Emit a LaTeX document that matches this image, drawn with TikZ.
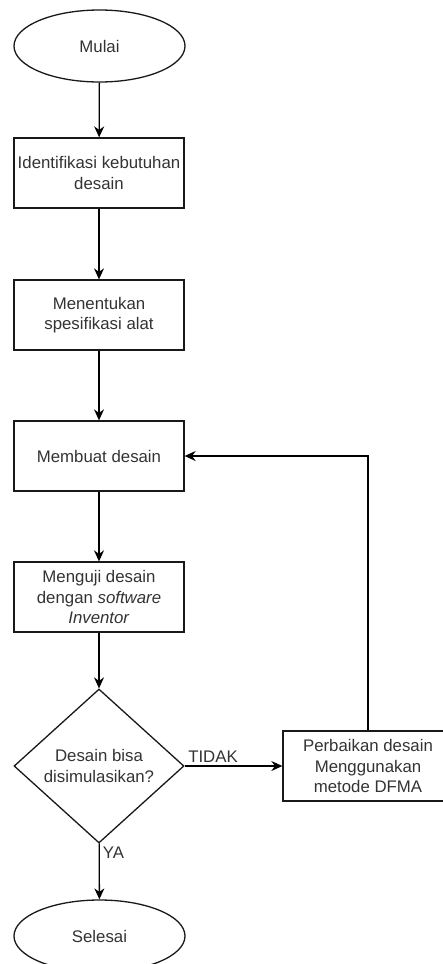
\documentclass[tikz,border=0pt]{standalone}
\usepackage{fontspec}
\setmainfont{Liberation Sans}
\usetikzlibrary{shapes.geometric,arrows.meta}
\tikzset{
        every node/.style={font=\fontsize{8.4}{10.3}\selectfont, text=black!80},
        terminal/.style={ellipse, draw=black!90, line width=0.65pt, minimum width=85.5pt, minimum height=36pt, inner sep=0pt},
        process/.style={rectangle, draw=black!90, line width=0.65pt, minimum width=85pt, minimum height=35pt, align=center, inner sep=1pt},
        decision/.style={diamond, draw=black!90, line width=0.65pt, minimum width=85pt, minimum height=77pt, inner sep=0pt, align=center},
        flow/.style={draw=black, line width=0.65pt, -{Stealth[length=5.5pt, width=5pt]}},
        flowlabel/.style={inner sep=1.5pt}
          }
\begin{document}
\begin{tikzpicture}[x=0.5pt, y=-0.5pt]
            \useasboundingbox (0,0) rectangle (443,964);
            \node[terminal] (mulai) at (99.5,46) {Mulai};
            \node[process] (identifikasi) at (99,173) {Identifikasi kebutuhan\\desain};
            \node[process] (spesifikasi) at (99,315) {Menentukan\\spesifikasi alat};
            \node[process] (desain) at (99,456) {Membuat desain};
            \node[process] (uji) at (99,597) {Menguji desain\\dengan \textit{software}\\\textit{Inventor}};
            \node[decision] (simulasi) at (99,766) {Desain bisa\\disimulasikan?};
            \node[process] (perbaikan) at (368,766) {Perbaikan desain\\Menggunakan\\metode DFMA};
            \node[terminal] (selesai) at (99.5,936) {Selesai};

            \draw[flow] (mulai) -- (identifikasi);
            \draw[flow] (identifikasi) -- (spesifikasi);
            \draw[flow] (spesifikasi) -- (desain);
            \draw[flow] (desain) -- (uji);
            \draw[flow] (uji) -- (simulasi);
            \draw[flow] (simulasi) -- node[flowlabel, pos=0, anchor=south west] {TIDAK} (perbaikan);
            \draw[flow] (simulasi) -- node[flowlabel, pos=0, anchor=north west] {YA} (selesai);
            \draw[flow] (perbaikan) |- (desain);
          \end{tikzpicture}
\end{document}
